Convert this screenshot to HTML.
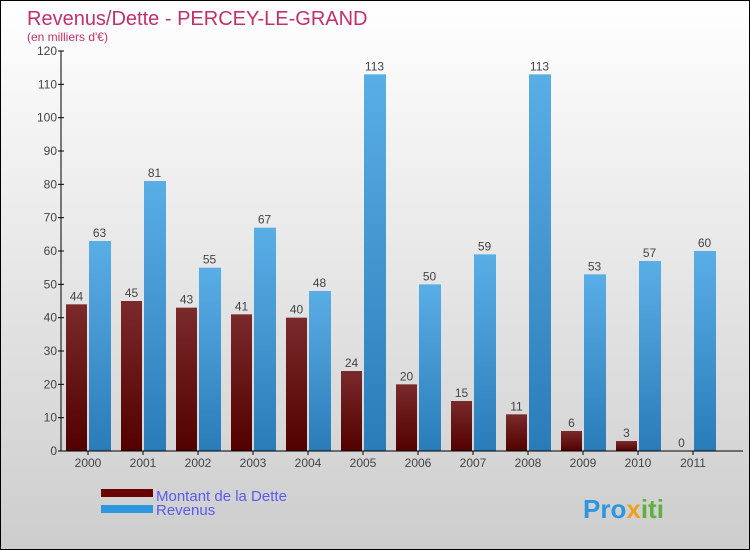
<!DOCTYPE html>
<html><head><meta charset="utf-8"><style>
body{margin:0}
#wrap{position:relative;width:748px;height:548px;border:1px solid #000;background:linear-gradient(#fff,#cdcdcd);font-family:"Liberation Sans",sans-serif;overflow:hidden}
</style></head><body>
<div id="wrap">
<svg id="chart" width="748" height="548" xmlns="http://www.w3.org/2000/svg">
<defs>
<linearGradient id="gd" x1="0" y1="0" x2="0" y2="1"><stop offset="0" stop-color="#7a2a2a"/><stop offset="1" stop-color="#520000"/></linearGradient>
<linearGradient id="gr" x1="0" y1="0" x2="0" y2="1"><stop offset="0" stop-color="#5aaee6"/><stop offset="1" stop-color="#2a7cb8"/></linearGradient>
</defs>
<text x="26" y="24" font-size="20" fill="#c0306a">Revenus/Dette - PERCEY-LE-GRAND</text>
<text x="26" y="40" font-size="12" fill="#c0306a">(en milliers d'€)</text>
<g id="grid"></g><g id="bars"></g><g id="axes"></g>
<rect x="100" y="488" width="52" height="8" fill="#6a0000"/>
<text x="155" y="500" font-size="15" fill="#5a5aee">Montant de la Dette</text>
<rect x="100" y="504" width="52" height="8" fill="#2e96de"/>
<text x="155" y="514" font-size="15" fill="#5a5aee">Revenus</text>
<text x="582" y="517" font-size="26" font-weight="bold" fill="#2e96de">Pro<tspan fill="#f0a020">x</tspan><tspan fill="#60b040">iti</tspan></text>
</svg></div>
<script>
const years=["2000","2001","2002","2003","2004","2005","2006","2007","2008","2009","2010","2011"];
const dette=[44,45,43,41,40,24,20,15,11,6,3,0];
const revenus=[63,81,55,67,48,113,50,59,113,53,57,60];
const ticks=[0,10,20,30,40,50,60,70,80,90,100,110,120];
const NS="http://www.w3.org/2000/svg";
const y0=450,y1=50,vmax=120,x0=60,step=55,first=87,bw=21;
const Y=v=>y0-(v/vmax)*(y0-y1);
const X=i=>first+i*step;
function mk(t,a,p){const e=document.createElementNS(NS,t);for(const k in a)e.setAttribute(k,a[k]);p.appendChild(e);return e;}
const axes=document.getElementById('axes'),bars=document.getElementById('bars');
let l=mk('line',{x1:x0,y1:y1,x2:x0,y2:y0,stroke:'#000'},axes);


l=mk('line',{x1:x0,y1:y0,x2:742,y2:y0,stroke:'#000'},axes);


ticks.forEach(v=>{
 mk('line',{x1:x0-3,y1:Y(v),x2:x0+3,y2:Y(v),stroke:'#000'},axes);
 const t=mk('text',{x:x0-4,y:Y(v)+4,'font-size':12,fill:'#444','text-anchor':'end'},axes);
 t.textContent=v;
 
 
});
years.forEach((yr,i)=>{
 const cx=X(i);
 mk('line',{x1:cx,y1:y0,x2:cx,y2:y0+4,stroke:'#000'},axes);
 const t=mk('text',{x:cx,y:y0+16,'font-size':12,fill:'#444','text-anchor':'middle'},axes);
 t.textContent=yr;
 
 
 const d=mk('rect',{x:cx-bw-1,y:Y(dette[i]),width:bw,height:y0-Y(dette[i]),fill:'url(#gd)'},bars);
 
 
 const r=mk('rect',{x:cx+1,y:Y(revenus[i]),width:bw+1,height:y0-Y(revenus[i]),fill:'url(#gr)'},bars);
 
 
 const dl=mk('text',{x:cx-bw/2-1,y:Y(dette[i])-4,'font-size':12,fill:'#444','text-anchor':'middle'},bars);
 dl.textContent=dette[i];
 
 
 const rl=mk('text',{x:cx+bw/2+1,y:Y(revenus[i])-4,'font-size':12,fill:'#444','text-anchor':'middle'},bars);
 rl.textContent=revenus[i];
 
 
});
</script>
</body></html>
